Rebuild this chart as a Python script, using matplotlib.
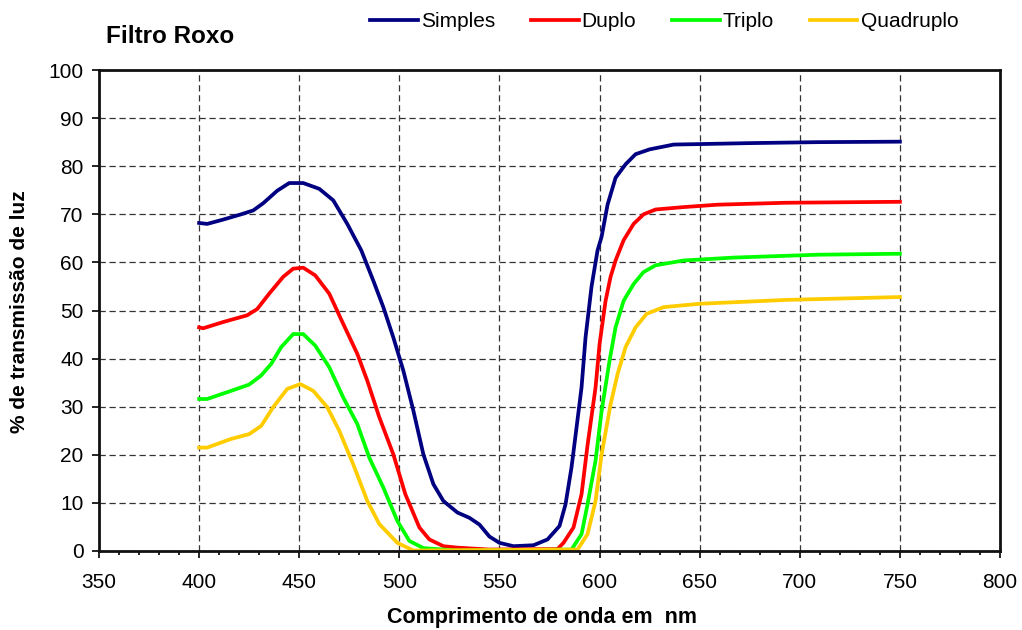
import matplotlib
matplotlib.use("Agg")
import matplotlib.pyplot as plt
from matplotlib.ticker import MultipleLocator

plt.rcParams['font.family'] = ['Liberation Sans', 'DejaVu Sans']

# leituras do grafico (comprimento de onda em nm, % de transmissao)
wl_simples = [400, 404, 412, 421, 427, 432, 439, 445, 452, 460, 467, 474, 481, 487, 492, 497,
              502, 507, 512, 517, 522, 529, 535, 540, 545, 550, 557, 567, 574, 580, 583, 586,
              588, 591, 593, 596, 599, 601, 604, 608, 613, 618, 625, 637, 650, 675, 709, 750]
t_simples = [68.2, 68, 68.9, 70, 70.8, 72.3, 74.9, 76.5, 76.5, 75.3, 72.9, 68, 62.5, 56.2, 50.7, 44.4,
             37.5, 29.2, 20.1, 13.9, 10.4, 8, 6.9, 5.5, 3, 1.7, 1, 1.2, 2.4, 5.2, 9.7, 17.4,
             24, 34, 44.4, 55, 62.5, 65.3, 72, 77.6, 80.4, 82.5, 83.5, 84.5, 84.6, 84.8, 85, 85.1]

wl_duplo = [400, 402, 412, 424, 429, 435, 442, 447, 452, 458, 465, 472, 479, 484, 490, 497,
            503, 510, 515, 522, 529, 545, 579, 582, 587, 591, 594, 598, 600, 603, 605.5, 608,
            612, 617, 622, 628, 642, 659, 693, 750]
t_duplo = [46.5, 46.3, 47.6, 49, 50.3, 53.5, 57, 58.7, 58.9, 57.3, 53.5, 47.2, 41, 35.4, 27.8, 20.1,
           11.8, 4.9, 2.4, 1, 0.7, 0.3, 0.4, 1.7, 4.9, 11.8, 22, 34, 43, 52, 57, 60.4,
           64.6, 68, 70, 71, 71.5, 72, 72.4, 72.6]

wl_triplo = [400, 404, 416, 425, 431, 436, 441, 447, 452, 458, 465, 472, 479, 485, 492, 499,
             505, 512, 529, 586, 591, 594, 598, 601, 605, 608, 612, 617, 622, 628, 642, 667,
             709, 750]
t_triplo = [31.6, 31.6, 33.3, 34.6, 36.5, 38.9, 42.4, 45.1, 45.1, 42.7, 38.2, 31.9, 26.4, 19.4, 13.2, 6.25,
            2.1, 0.6, 0.1, 0.3, 3.5, 9.7, 18.8, 29, 39.6, 46.5, 52, 55.5, 58, 59.4, 60.4, 61,
            61.6, 61.8]

wl_quad = [400, 404, 416, 425, 431, 437, 444, 450.5, 457, 464, 470, 477, 484, 490, 499, 507,
           589, 594, 598, 601, 605.5, 609, 613, 618, 623.5, 632, 650, 693, 750]
t_quad = [21.5, 21.5, 23.3, 24.3, 26, 29.9, 33.7, 34.7, 33.3, 29.9, 25, 18, 10.4, 5.6, 1.7, 0.1,
          0.3, 3.5, 10.4, 20, 30.5, 36.8, 42.4, 46.5, 49.3, 50.7, 51.4, 52.2, 52.8]

fig = plt.figure(figsize=(10.22, 6.3), dpi=100)
ax = fig.add_axes([99/1022, 1 - 551/630, 901/1022, 481/630])

ax.plot(wl_simples, t_simples, color='#000080', lw=2.7, label='Simples', solid_joinstyle='round')
ax.plot(wl_duplo, t_duplo, color='#FF0000', lw=2.7, label='Duplo', solid_joinstyle='round')
ax.plot(wl_triplo, t_triplo, color='#00FF00', lw=2.7, label='Triplo', solid_joinstyle='round')
ax.plot(wl_quad, t_quad, color='#FFCC00', lw=2.7, label='Quadruplo', solid_joinstyle='round')

ax.set_xlim(350, 800)
ax.set_ylim(0, 100)
ax.xaxis.set_major_locator(MultipleLocator(50))
ax.xaxis.set_minor_locator(MultipleLocator(10))
ax.yaxis.set_major_locator(MultipleLocator(10))
ax.grid(True, which='major', color='#333333', lw=0.9, linestyle=(0, (5, 3)))
ax.set_axisbelow(True)
for s in ax.spines.values():
    s.set_linewidth(2)
    s.set_color('#111111')
ax.tick_params(axis='x', which='major', length=5, width=1.2, pad=11, labelsize=15)
ax.tick_params(axis='x', which='minor', length=3, width=1.2)
ax.tick_params(axis='y', which='major', length=5, width=1.2, pad=6, labelsize=15)

fig.text(106/1022, 1 - 43/630, 'Filtro Roxo', fontsize=17.5, fontweight='bold', va='baseline')
fig.text(542/1022, 1 - 623/630, 'Comprimento de onda em  nm', fontsize=15.5,
         fontweight='bold', ha='center', va='baseline')
fig.text(20/1022, 1 - 312/630, '% de transmissão de luz', fontsize=15, fontweight='bold',
         rotation=90, ha='center', va='center')

fig.legend(loc='center left', bbox_to_anchor=(370/1022, 1 - 21.5/630), ncol=4, frameon=False,
           fontsize=15, handlelength=2.3, handletextpad=0.15, columnspacing=1.7,
           borderpad=0, borderaxespad=0)

fig.savefig('out.png', dpi=100)
